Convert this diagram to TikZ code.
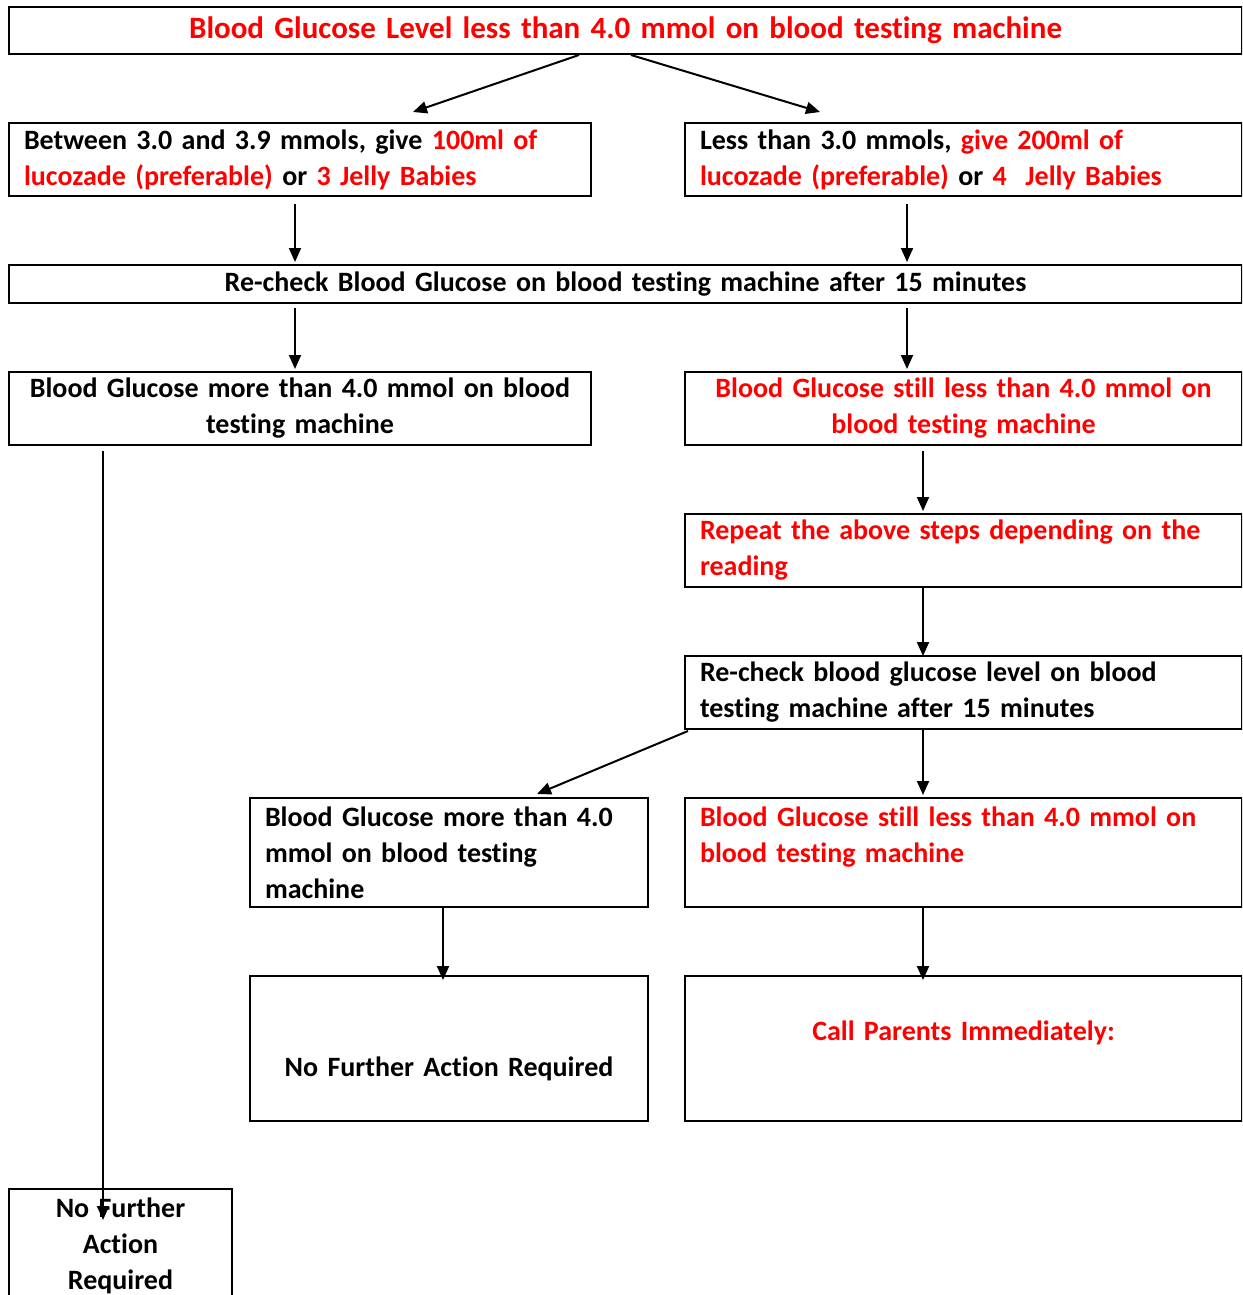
\documentclass[tikz,border=0pt]{standalone}
\usepackage{fontspec}
\setmainfont{Carlito}[Ligatures=NoCommon]
\usetikzlibrary{arrows.meta}
\definecolor{alert}{RGB}{255,0,0}
\newcommand{\hot}[1]{\textcolor{alert}{#1}}

\begin{document}
\begin{tikzpicture}[
        x=1pt, y=-1pt,
        font=\fontsize{28}{36}\selectfont\bfseries,
        box/.style={draw, line width=2pt, anchor=north west,
                    inner xsep=15pt, inner ysep=0pt},
        arr/.style={-{Triangle[length=14pt,width=12pt]}, line width=2pt}
      ]
        \useasboundingbox (0,0) rectangle (1242,1295);
        \clip (0,0) rectangle (1242,1295);

        % first row
        \node[box, text width=1203pt, minimum height=47pt, align=center,
              text=alert, font=\fontsize{31}{36}\selectfont\bfseries] (top) at (8,6)
          {Blood Glucose Level less than 4.0 mmol on blood testing machine};
        \node[box, text width=552pt, minimum height=73pt, align=left]
          (lft) at (8,122)
          {Between 3.0 and 3.9 mmols, give \hot{100ml of}\\
           \hot{lucozade (preferable)} or \hot{3 Jelly Babies}};
        \node[box, text width=527pt, minimum height=73pt, align=left]
          (rgt) at (684,122)
          {Less than 3.0 mmols, \hot{give 200ml of}\\
           \hot{lucozade (preferable)} or \hot{4~~Jelly Babies}};
        \node[box, text width=1203pt, minimum height=38pt, align=center]
          (chk) at (8,264)
          {Re-check Blood Glucose on blood testing machine after 15 minutes};

        % outcomes of the first check
        \node[box, text width=552pt, minimum height=73pt, align=center]
          (hi1) at (8,371)
          {Blood Glucose more than 4.0 mmol on blood\\testing machine};
        \node[box, text width=527pt, minimum height=73pt, align=center,
              text=alert] (lo1) at (684,371)
          {Blood Glucose still less than 4.0 mmol on\\blood testing machine};
        \node[box, text width=527pt, minimum height=73pt, align=left,
              text=alert] (rep) at (684,513)
          {Repeat the above steps depending on the\\reading};
        \node[box, text width=527pt, minimum height=73pt, align=left]
          (chk2) at (684,655)
          {Re-check blood glucose level on blood\\testing machine after 15 minutes};

        % outcomes of the second check
        \node[box, text width=368pt, minimum height=109pt, align=left]
          (hi2) at (249,797)
          {Blood Glucose more than 4.0\\mmol on blood testing\\machine};
        \node[box, text width=527pt, minimum height=109pt, align=left,
              text=alert] (lo2) at (684,797)
          {Blood Glucose still less than 4.0 mmol on\\blood testing machine\\~};
        \node[box, text width=368pt, minimum height=145pt, align=center]
          (nfa2) at (249,975)
          {~\\[24pt]No Further Action Required};
        \node[box, text width=527pt, minimum height=145pt, align=center,
              text=alert] (call) at (684,975)
          {Call Parents Immediately:\\~};
        \node[box, text width=193pt, minimum height=114pt, align=center]
          (nfa1) at (8,1188)
          {No Further\\Action\\Required};

        \draw[arr] ([xshift=-46.5pt]top.south) -- ([xshift=113pt,yshift=10pt]lft.north);
        \draw[arr] ([xshift=5.5pt]top.south) -- ([xshift=-143.5pt,yshift=10pt]rgt.north);
        \draw[arr] ([xshift=-5pt,yshift=-7pt]lft.south) -- ([xshift=-330.5pt,yshift=2pt]chk.north);
        \draw[arr] ([xshift=-56.5pt,yshift=-7pt]rgt.south) -- ([xshift=281.5pt,yshift=2pt]chk.north);
        \draw[arr] ([xshift=-330.5pt,yshift=-4pt]chk.south) -- ([xshift=-5pt,yshift=2pt]hi1.north);
        \draw[arr] ([xshift=281.5pt,yshift=-4pt]chk.south) -- ([xshift=-56.5pt,yshift=2pt]lo1.north);
        \draw[arr] ([xshift=-40.5pt,yshift=-5pt]lo1.south) -- ([xshift=-40.5pt,yshift=2pt]rep.north);
        \draw[arr] ([xshift=-40.5pt]rep.south) -- ([xshift=-40.5pt,yshift=-1pt]chk2.north);
        \draw[arr] ([xshift=4pt,yshift=-1pt]chk2.south west) -- ([xshift=88pt,yshift=3pt]hi2.north);
        \draw[arr] ([xshift=-40.5pt]chk2.south) -- ([xshift=-40.5pt,yshift=2pt]lo2.north);
        \draw[arr] ([xshift=-6pt]hi2.south) -- ([xshift=-6pt,yshift=-5pt]nfa2.north);
        \draw[arr] ([xshift=-40.5pt]lo2.south) -- ([xshift=-40.5pt,yshift=-5pt]call.north);
        \draw[arr] ([xshift=-197pt,yshift=-5pt]hi1.south) -- ([xshift=-17.5pt,yshift=-32pt]nfa1.north);
      \end{tikzpicture}
\end{document}
